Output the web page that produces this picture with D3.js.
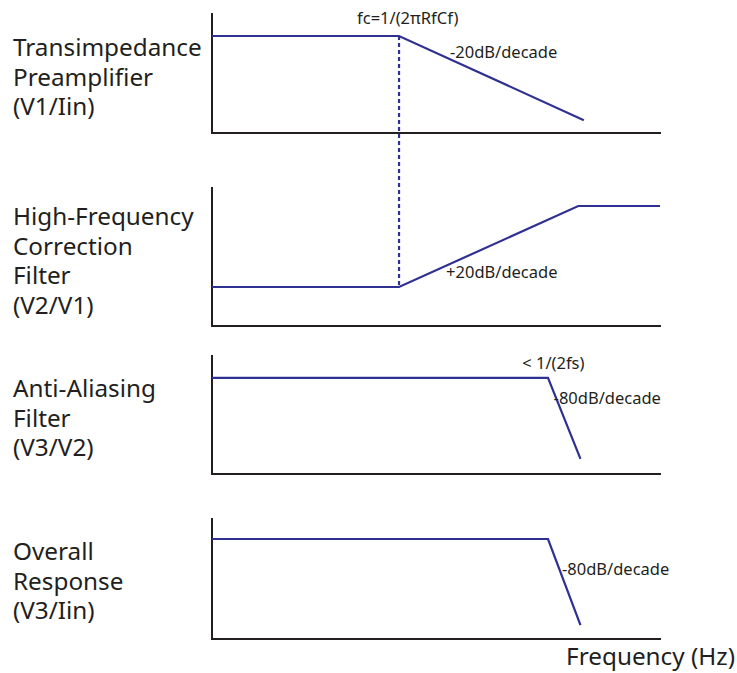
<!DOCTYPE html>
<html lang="en">
<head>
    <meta charset="UTF-8">
    <title>Signal chain frequency response</title>
    <script src="https://d3js.org/d3.v7.min.js"></script>
    <style>
        body {
            margin: 0;
            background: #fff;
        }

        .label {
            font-family: "Noto Sans", sans-serif;
            font-size: 24.3px;
            fill: #231f20;
        }

        .note {
            font-family: "Noto Sans", sans-serif;
            font-size: 16.5px;
            fill: #231f20;
        }

        .axis-line {
            fill: none;
            stroke: #231f20;
            stroke-width: 2px;
        }

        .response {
            fill: none;
            stroke: #2e3192;
            stroke-width: 2.2px;
        }
    </style>
</head>
<body>
<svg id="chart" width="737" height="673"></svg>

<script>

    // stage names, one line per entry
    var stageLabels = [
        ["Transimpedance", "Preamplifier", "(V1/Iin)"],
        ["High-Frequency", "Correction", "Filter", "(V2/V1)"],
        ["Anti-Aliasing", "Filter", "(V3/V2)"],
        ["Overall", "Response", "(V3/Iin)"]
    ];

    // corner points of each asymptotic curve: log10 frequency (decades) and gain (dB)
    var preampDecades = [0, 1.67, 3.32];
    var preampGain = [0, 0, -33];
    var correctionDecades = [0, 1.67, 3.27, 4.0];
    var correctionGain = [0, 0, 32, 32];
    var antiAliasDecades = [0, 3.0, 3.29];
    var antiAliasGain = [0, 0, -32];
    var overallDecades = [0, 3.0, 3.29];
    var overallGain = [0, 0, -34];

    // corner frequency shared by the first two stages
    var fcDecade = 1.67;

    // gain range shown by each panel
    var gainDomains = [[-38, 9], [-15.4, 39.5], [-38, 9], [-39.5, 8.3]];

    // annotations: panel, decade, gain, text
    var noteText = ["fc=1/(2\u03c0RfCf)", "-20dB/decade", "+20dB/decade", "< 1/(2fs)", "-80dB/decade", "-80dB/decade"];
    var notePanel = [0, 0, 1, 2, 2, 3];
    var noteDecade = [1.295, 2.125, 2.09, 2.77, 3.05, 3.125];
    var noteGain = [4.6, -8.6, 3.5, 3.5, -10.4, -14.2];

    var xLabel = "Frequency (Hz)";

    var svg = d3.select("#chart");

    // layout of the four stacked panels
    var panelTop = [13, 187, 355, 518],
        panelBottom = [133, 326, 474, 639],
        labelFirstBaseline = [56, 225, 397, 560],
        lineHeight = 29.5;

    var x = d3.scaleLinear()
            .domain([0, 4])
            .range([212, 660]);

    var yScales = gainDomains.map(function (dom, i) {
        return d3.scaleLinear().domain(dom).range([panelBottom[i], panelTop[i]]);
    });

    var curves = [
        d3.zip(preampDecades, preampGain),
        d3.zip(correctionDecades, correctionGain),
        d3.zip(antiAliasDecades, antiAliasGain),
        d3.zip(overallDecades, overallGain)
    ];

    // axes: vertical then horizontal, as one path per panel
    svg.append("g")
            .selectAll("path")
            .data(yScales)
            .enter().append("path")
            .attr("class", "axis-line")
            .attr("d", function (y) {
                var r = y.range();
                return "M" + x(0) + "," + r[1] + "V" + r[0] + "H" + (x(4) + 1);
            });

    // dashed marker at fc, from the preamp plateau down to the correction floor
    svg.append("line")
            .attr("class", "response")
            .attr("stroke-dasharray", "4,3")
            .attr("x1", x(fcDecade))
            .attr("x2", x(fcDecade))
            .attr("y1", yScales[0](0))
            .attr("y2", yScales[1](0));

    svg.append("g")
            .selectAll("path")
            .data(curves)
            .enter().append("path")
            .attr("class", "response")
            .attr("d", function (pts, i) {
                return d3.line()
                        .x(function (d) {
                            return x(d[0]);
                        })
                        .y(function (d) {
                            return yScales[i](d[1]);
                        })(pts);
            });

    // stage names on the left
    stageLabels.forEach(function (lines, i) {
        svg.append("text")
                .attr("class", "label")
                .selectAll("tspan")
                .data(lines)
                .enter().append("tspan")
                .attr("x", 13)
                .attr("y", function (d, j) {
                    return labelFirstBaseline[i] + j * lineHeight;
                })
                .text(function (d) {
                    return d;
                });
    });

    svg.append("g")
            .selectAll("text")
            .data(noteText)
            .enter().append("text")
            .attr("class", "note")
            .attr("x", function (d, i) {
                return x(noteDecade[i]);
            })
            .attr("y", function (d, i) {
                return yScales[notePanel[i]](noteGain[i]);
            })
            .text(function (d) {
                return d;
            });

    svg.append("text")
            .attr("class", "label")
            .attr("x", 735)
            .attr("y", 665)
            .attr("text-anchor", "end")
            .text(xLabel);

</script>
</body>
</html>
